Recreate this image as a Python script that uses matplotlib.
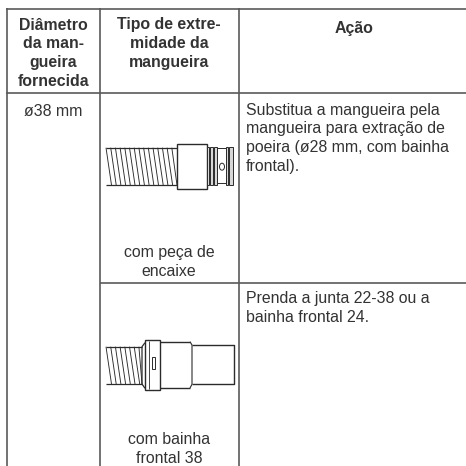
import matplotlib
matplotlib.use('Agg')
import matplotlib.pyplot as plt
from matplotlib.patches import Ellipse, Rectangle

plt.rcParams['font.family'] = ['Liberation Sans', 'DejaVu Sans']

INK = '#333333'
LINE = '#2b2b2b'
GRID = '#5a5a5a'

# table text, one entry per printed line
col_diam_header = ['Diâmetro', 'da man-', 'gueira', 'fornecida']
col_tipo_header = ['Tipo de extre-', 'midade da', 'mangueira']
col_acao_header = ['Ação']
diam_value = ['ø38 mm']
tipo_row1 = ['com peça de', 'encaixe']
tipo_row2 = ['com bainha', 'frontal 38']
acao_row1 = ['Substitua a mangueira pela', 'mangueira para extração de',
             'poeira (ø28 mm, com bainha', 'frontal).']
acao_row2 = ['Prenda a junta 22-38 ou a', 'bainha frontal 24.']


def put_lines(ax, lines, x, y, ha='center', weight='normal'):
    for i, line in enumerate(lines):
        ax.text(x, y + i * 18.9, line, ha=ha, va='baseline', fontsize=11.4,
                color=INK, fontweight=weight)


def seg(ax, xs, ys, lw=0.9, color=LINE):
    ax.plot(xs, ys, color=color, lw=lw, solid_capstyle='butt', zorder=5)


def box(ax, x0, y0, x1, y1, lw=0.9, fc='white'):
    ax.add_patch(Rectangle((x0, y0), x1 - x0, y1 - y0, fc=fc, ec=LINE, lw=lw, zorder=3))


def corrugated(ax, x0, x1, top, bottom):
    seg(ax, [x0, x1], [top, top])
    seg(ax, [x0, x1], [bottom, bottom])
    x = x0
    while x < x1 - 1:
        seg(ax, [x, min(x + 5.5, x1)], [top, bottom], lw=0.65)
        x += 4.7


fig = plt.figure(figsize=(4.66, 4.66), dpi=100)
ax = fig.add_axes([0, 0, 1, 1])
ax.set_xlim(0, 466)
ax.set_ylim(466, 0)
ax.axis('off')

# grid: the table runs off the page to the right and below
for y in [8.5, 92.5]:
    seg(ax, [6, 466], [y, y], lw=1.2, color=GRID)
seg(ax, [99.5, 466], [282.5, 282.5], lw=1.2, color=GRID)
seg(ax, [7, 7], [8, 466], lw=1.2, color=GRID)
seg(ax, [99.5, 99.5], [8, 466], lw=1.2, color=GRID)
seg(ax, [238.5, 238.5], [8, 466], lw=1.2, color=GRID)

put_lines(ax, col_diam_header, 53.5, 29.5, weight='bold')
put_lines(ax, col_tipo_header, 169, 29.5, weight='bold')
put_lines(ax, col_acao_header, 354, 33, weight='bold')
put_lines(ax, diam_value, 53.5, 116)
put_lines(ax, acao_row1, 246, 114.5, ha='left')
put_lines(ax, acao_row2, 246, 303, ha='left')
put_lines(ax, tipo_row1, 169, 257)
put_lines(ax, tipo_row2, 169, 444)

# hose with plug-in piece
corrugated(ax, 106, 177, 147.7, 185)
box(ax, 176.5, 143.5, 207, 188.5, lw=1.0)
box(ax, 216.5, 148, 226, 183, lw=0.7)
for x0, x1 in [(207, 209), (210, 212.5), (214, 216.5), (226, 228), (228.5, 232.5)]:
    box(ax, x0, 146.5, x1, 185, lw=0.7, fc='#d8d8d8')
ax.add_patch(Ellipse((222, 166.7), 5, 7, fc='white', ec=LINE, lw=0.7, zorder=4))

# hose with front sleeve
corrugated(ax, 106, 142, 346.7, 384)
seg(ax, [142, 142, 145], [384, 346.7, 342.7], lw=0.9)
seg(ax, [142, 145], [384, 388.3], lw=0.9)
seg(ax, [160, 190], [341.7, 341.7], lw=1.0)
seg(ax, [160, 190], [388, 388], lw=1.0)
box(ax, 145, 340, 160, 390, lw=1.0)
seg(ax, [149, 149], [341, 389], lw=0.6)
seg(ax, [190, 192, 192, 190], [341.7, 345, 384.3, 388], lw=0.8)
seg(ax, [192, 233.5, 233.5, 192], [345, 345, 384.3, 384.3], lw=1.0)
box(ax, 151.7, 356.7, 154.5, 369.3, lw=0.7)

fig.savefig('out.png', dpi=100)
